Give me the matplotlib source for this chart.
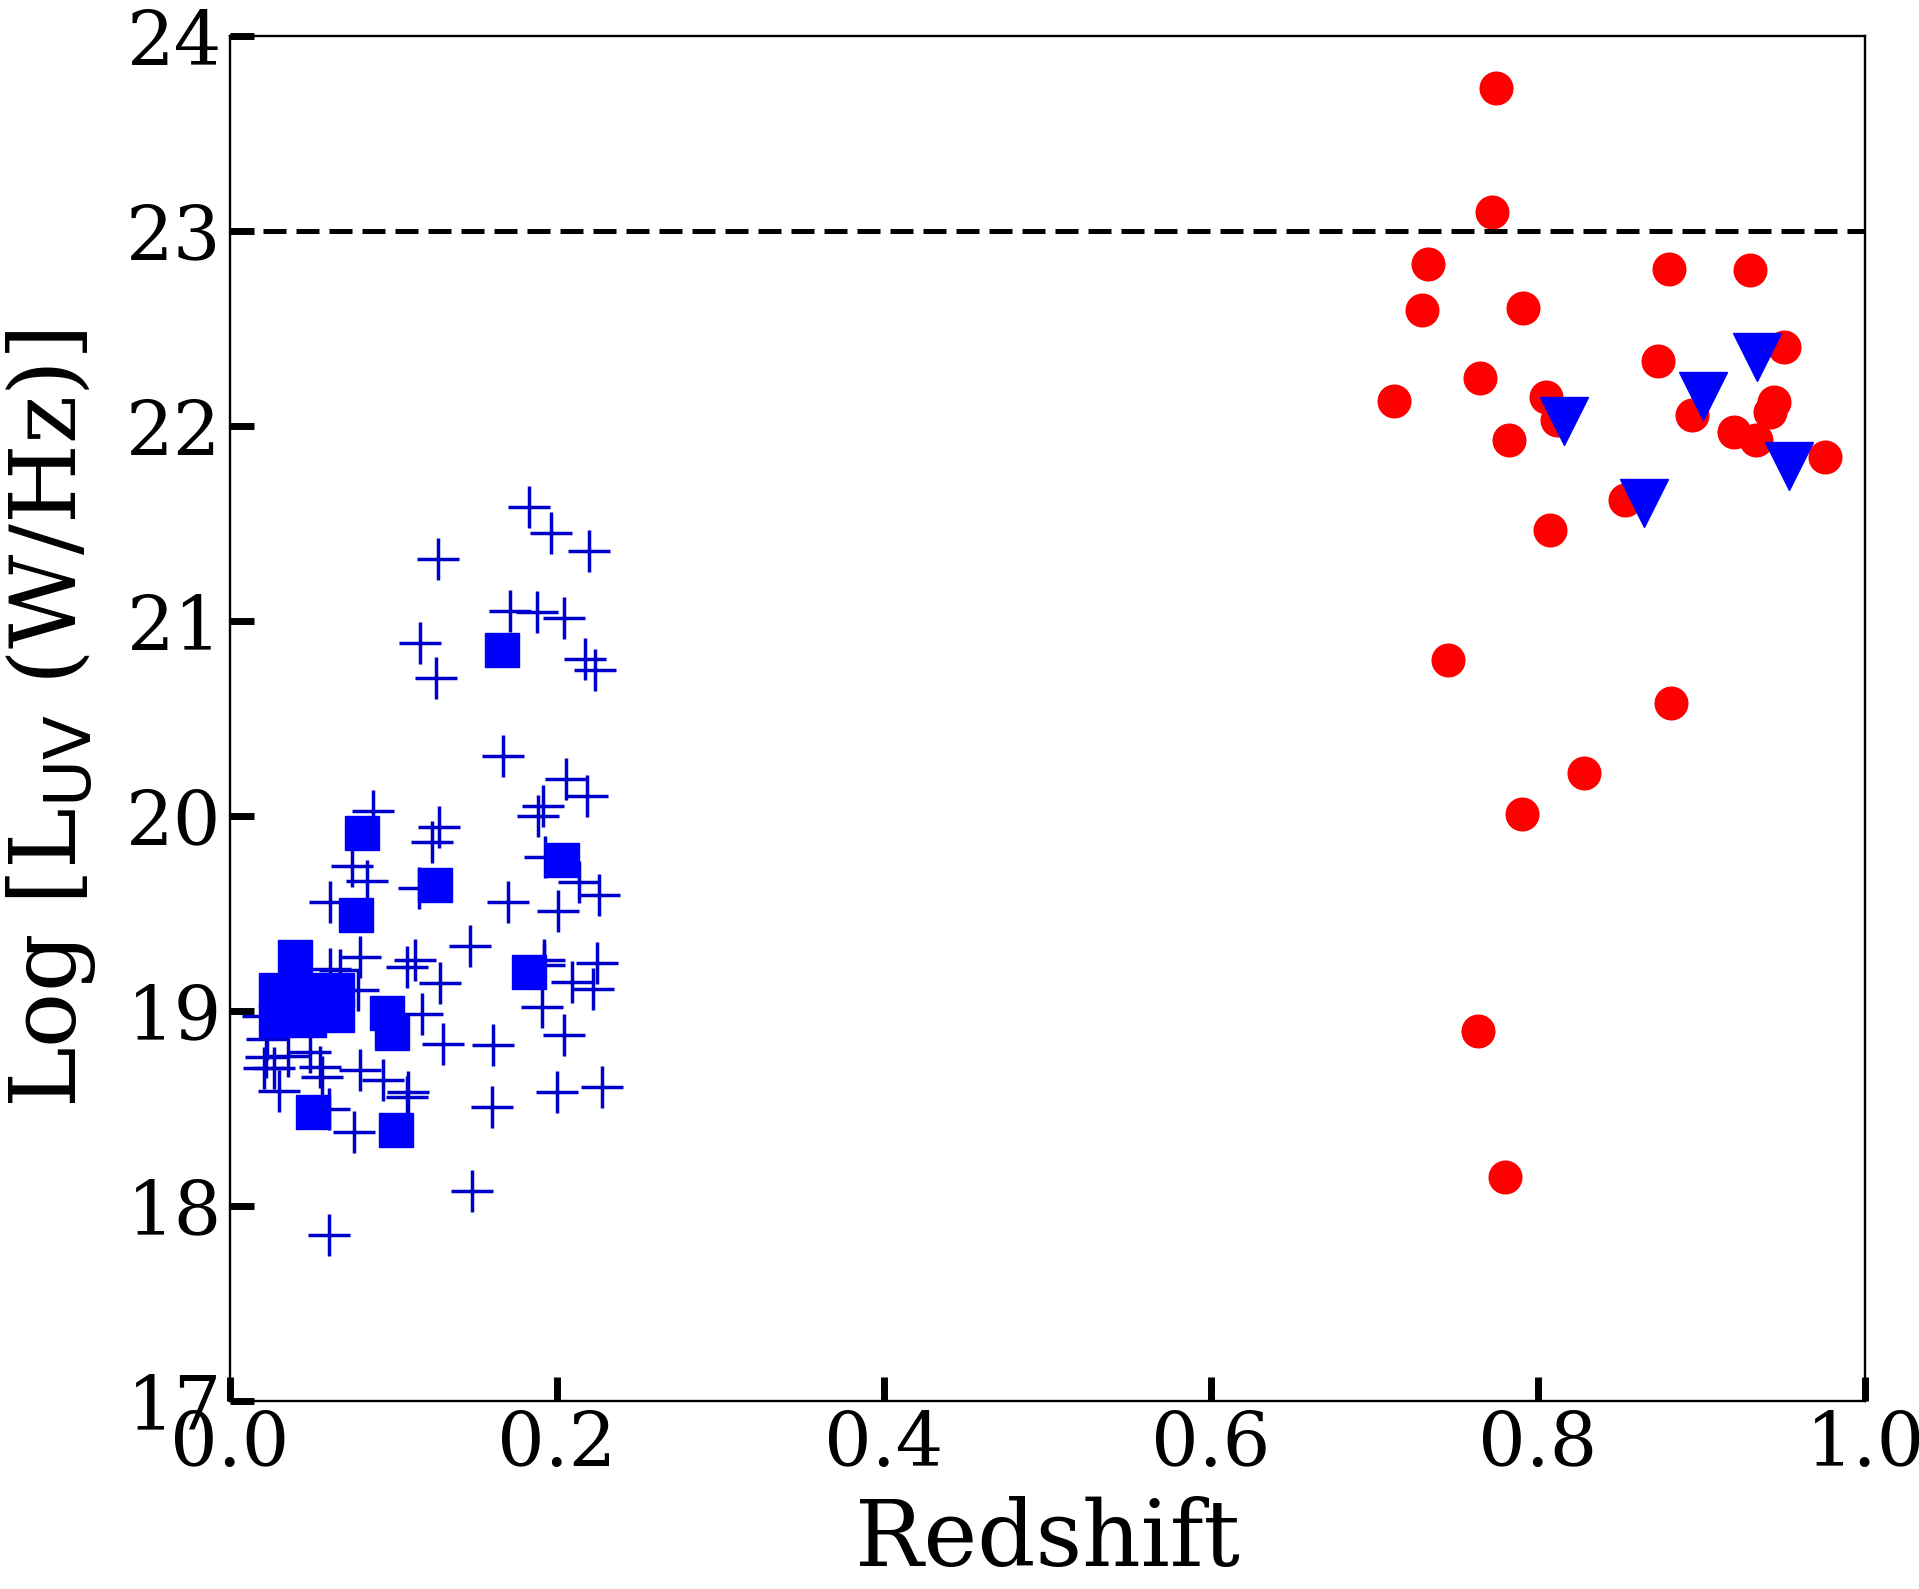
import matplotlib
matplotlib.use('Agg')
import matplotlib.pyplot as plt

# low-z sample (plus markers)
plus_z = [0.1829, 0.1962, 0.2196, 0.1272, 0.1711, 0.1876, 0.2043, 0.1162, 0.2172, 0.2233,
          0.1260, 0.1670, 0.2055, 0.2182, 0.0873, 0.1913, 0.1882, 0.1278, 0.1234, 0.1927,
          0.0744, 0.0836, 0.1156, 0.2135, 0.2257, 0.0612, 0.1702, 0.2004, 0.1468, 0.0795,
          0.1132, 0.1081, 0.0612, 0.0673, 0.1923, 0.1923, 0.2245, 0.1285, 0.2090, 0.2221,
          0.0785, 0.1907, 0.1172, 0.2041, 0.1305, 0.1611, 0.0204, 0.0228, 0.0220, 0.0357,
          0.0210, 0.0271, 0.0300, 0.0489, 0.0551, 0.0561, 0.0795, 0.0934, 0.1091, 0.1081,
          0.0602, 0.0758, 0.1601, 0.1998, 0.2273, 0.1478, 0.0606]
plus_luv = [21.585, 21.449, 21.360, 21.317, 21.052, 21.047, 21.016, 20.888, 20.805, 20.750,
            20.709, 20.309, 20.189, 20.104, 20.027, 20.053, 20.002, 19.945, 19.868, 19.790,
            19.745, 19.668, 19.630, 19.663, 19.595, 19.560, 19.560, 19.514, 19.335, 19.278,
            19.261, 19.227, 19.214, 19.210, 19.261, 19.236, 19.248, 19.142, 19.150, 19.111,
            19.107, 19.022, 18.985, 18.878, 18.829, 18.826, 18.974, 18.855, 18.763, 18.770,
            18.710, 18.710, 18.591, 18.791, 18.715, 18.664, 18.697, 18.646, 18.586, 18.560,
            18.500, 18.381, 18.509, 18.586, 18.612, 18.079, 17.852]

# low-z sample (squares)
sq_z = [0.1664, 0.0807, 0.2031, 0.1254, 0.0769, 0.1831, 0.0398, 0.0279, 0.0483,
        0.0652, 0.0279, 0.0483, 0.0652, 0.0958, 0.0989, 0.0510, 0.1015]
sq_luv = [20.851, 19.914, 19.774, 19.646, 19.492, 19.201, 19.275, 19.108, 19.108,
          19.108, 18.954, 18.954, 18.980, 18.988, 18.886, 18.484, 18.390]

# high-z sample (circles)
circ_z = [0.7744, 0.7716, 0.7324, 0.7293, 0.7905, 0.8798, 0.9298, 0.7646, 0.7120, 0.8050,
          0.8115, 0.7820, 0.8731, 0.9502, 0.8941, 0.9440, 0.9420, 0.9196, 0.9332, 0.9757,
          0.8533, 0.8074, 0.7450, 0.8810, 0.8280, 0.7900, 0.7630, 0.7800]
circ_luv = [23.735, 23.100, 22.833, 22.594, 22.607, 22.807, 22.802, 22.249, 22.127, 22.149,
            22.030, 21.931, 22.332, 22.405, 22.059, 22.124, 22.072, 21.970, 21.931, 21.842,
            21.620, 21.466, 20.800, 20.580, 20.220, 20.010, 18.900, 18.150]

# upper limits (triangles)
tri_z = [0.8160, 0.8649, 0.9008, 0.9337, 0.9536]
tri_luv = [22.026, 21.604, 22.154, 22.353, 21.796]

threshold = 23.0

plt.rcParams['font.family'] = 'DejaVu Serif'
plt.rcParams['mathtext.fontset'] = 'dejavusans'

fig = plt.figure(figsize=(19.19, 15.89), dpi=100)
ax = fig.add_axes([0.1199, 0.1183, 0.8520, 0.8590])

ax.plot(plus_z, plus_luv, linestyle='none', marker='+', color='mediumblue',
        markersize=30, markeredgewidth=2.5)
ax.plot(sq_z, sq_luv, linestyle='none', marker='s', color='blue', markersize=24)
ax.plot(circ_z, circ_luv, linestyle='none', marker='o', color='red', markersize=23.5)
ax.plot(tri_z, tri_luv, linestyle='none', marker='v', color='blue', markersize=34)
ax.axhline(threshold, color='black', linestyle='--', linewidth=3.6, dashes=(4.6, 2.0))

ax.set_xlim(0.0, 1.0)
ax.set_ylim(17, 24)
ax.set_xticks([0.0, 0.2, 0.4, 0.6, 0.8, 1.0])
ax.set_yticks([17, 18, 19, 20, 21, 22, 23, 24])

ax.tick_params(direction='in', length=17, width=5, labelsize=54, pad=6)
for sp in ax.spines.values():
    sp.set_linewidth(1.7)

ax.set_xlabel('Redshift', fontsize=65.5, labelpad=10)
ax.set_ylabel(r'Log [L$_{\rm UV}$ (W/Hz)]', fontsize=66, labelpad=20)

fig.savefig('out.png', dpi=100)
